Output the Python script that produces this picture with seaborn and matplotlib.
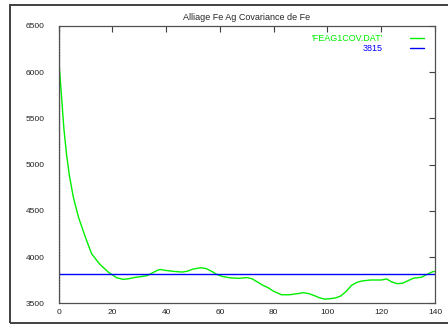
import matplotlib
matplotlib.use("Agg")
import matplotlib.pyplot as plt
from matplotlib.patches import Rectangle
import seaborn as sns
import pandas as pd

# Covariance curve of Fe in the Fe-Ag alloy
lag = [0, 1, 2, 3, 4, 5.5, 7.5, 10, 12.3, 15.4, 18.5, 21.6, 24, 26, 28, 31,
       33, 35, 37, 38, 40, 43, 46, 48, 50, 53, 55, 57, 59, 61, 64, 67, 70, 72,
       74, 76, 78, 80, 83, 86, 89, 91, 93, 95, 97, 99, 101, 103, 105, 107, 109,
       111, 113, 116, 120, 122, 124, 126, 128, 130, 132, 135, 137, 139, 140]
cov = [6170, 5790, 5390, 5110, 4890, 4650, 4425, 4215, 4037, 3921, 3838, 3777,
       3759, 3765, 3778, 3790, 3800, 3830, 3860, 3865,
       3855, 3845, 3838, 3848, 3870, 3885, 3875, 3845, 3810, 3790, 3775, 3770,
       3778, 3765, 3730, 3695, 3668, 3630, 3592, 3593, 3605, 3615, 3605, 3585,
       3560, 3545, 3550, 3558, 3580, 3630, 3695, 3727, 3742, 3752, 3752, 3763,
       3730, 3712, 3718, 3745, 3772, 3782, 3812, 3840, 3845]
level = 3815
series_label = "'FEAG1COV.DAT'"
level_label = "3815"
title = "Alliage Fe Ag Covariance de Fe"
x_ticks = [0, 20, 40, 60, 80, 100, 120, 140]
y_ticks = [3500, 4000, 4500, 5000, 5500, 6000, 6500]

sns.set_style("white")
plt.rcParams["font.family"] = ["Liberation Sans", "DejaVu Sans"]

fig = plt.figure(figsize=(4.48, 3.24), dpi=100)
ax = fig.add_axes([58.5 / 448, 1 - 303.3 / 324, (435 - 58.5) / 448, (303.3 - 26) / 324])

# outer frame around the plot area
fig.patches.append(Rectangle((10 / 448, 1 - 322.5 / 324), 1.2, (322.5 - 4.8) / 324,
                             transform=fig.transFigure, fill=False,
                             edgecolor="#404040", linewidth=1.4, clip_on=False))

df = pd.DataFrame({"lag": lag, "cov": cov})
sns.lineplot(data=df, x="lag", y="cov", ax=ax, color="#00ee00", linewidth=1.0,
             label=series_label)
ax.axhline(level, color="#0000ff", linewidth=1.0, label=level_label)
ax.axvline(0, color="#555555", linewidth=1.0, linestyle=(0, (1, 1)), zorder=0)

ax.set_xlim(0, 140)
ax.set_ylim(3500, 6500)
ax.set_xticks(x_ticks)
ax.set_yticks(y_ticks)
ax.set_xlabel("")
ax.set_ylabel("")
ax.set_title(title, fontsize=6.5, pad=4)
ax.tick_params(direction="in", length=4, width=0.8, labelsize=6, color="#404040",
               labelcolor="#222222", top=True, right=True)
ax.tick_params(axis="x", pad=4)
ax.tick_params(axis="y", pad=10)
for s in ax.spines.values():
    s.set_color("#505050")
    s.set_linewidth(0.9)
    s.set_visible(True)

leg = ax.legend(loc="upper right", bbox_to_anchor=(1 - 5 / 376.5, 1 - 2 / 277),
                frameon=False, markerfirst=False, fontsize=6.5,
                labelcolor="linecolor", handlelength=1.5, handletextpad=3.0,
                borderaxespad=0.3, labelspacing=0.05)
for t in leg.get_texts():
    t.set_ha("right")

fig.savefig("out.png", dpi=100)
